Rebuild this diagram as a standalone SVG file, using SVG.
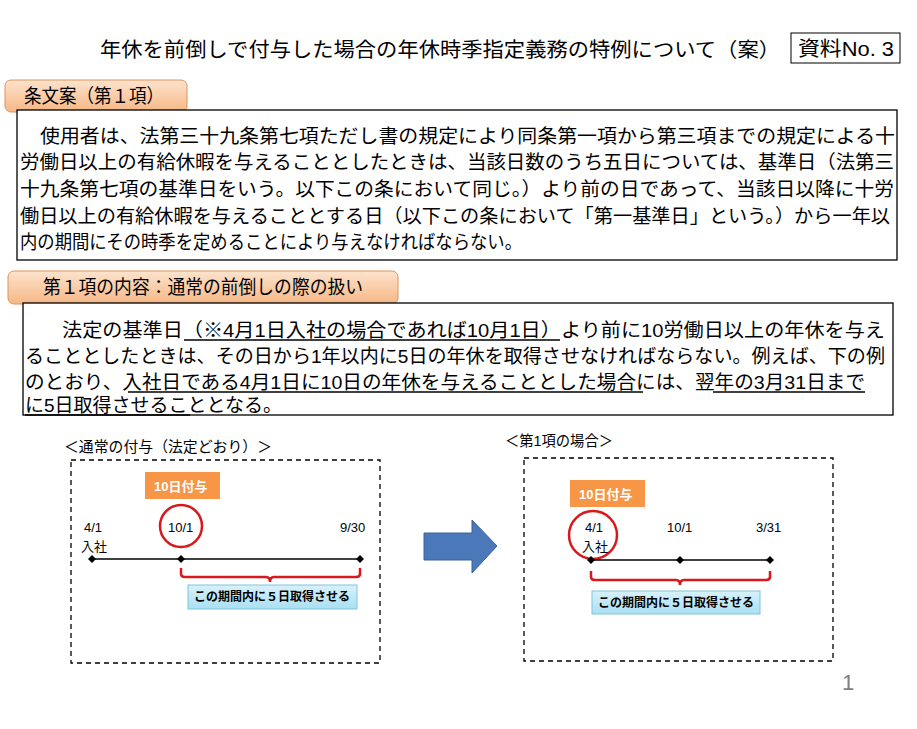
<svg xmlns="http://www.w3.org/2000/svg" width="917" height="729" viewBox="0 0 917 729">
<style>
text{font-family:"Liberation Sans","Noto Sans CJK JP",sans-serif;fill:#000}
.b{font-size:20px}
.t{font-size:19px}
.s{font-size:13px}
.tab{stroke:#e0925a;stroke-width:1}
.dash{fill:none;stroke:#000;stroke-width:1.3;stroke-dasharray:5,4}
.ul{stroke:#000;stroke-width:1.3}
.brace{fill:none;stroke:#d9181c;stroke-width:2.5}
.wt{font-size:13px;font-weight:bold;fill:#fff}
.bt{font-size:12px;font-weight:bold}
</style>
<defs>
<linearGradient id="og" x1="0" y1="0" x2="0" y2="1"><stop offset="0" stop-color="#fde3cd"/><stop offset="1" stop-color="#f6b785"/></linearGradient>
<linearGradient id="bg" x1="0" y1="0" x2="0" y2="1"><stop offset="0" stop-color="#d8f2fb"/><stop offset="1" stop-color="#a9dff2"/></linearGradient>
</defs>
<rect width="917" height="729" fill="#fff"/>
<g id="title">
<text x="100" y="57" class="b" textLength="680" lengthAdjust="spacingAndGlyphs">年休を前倒しで付与した場合の年休時季指定義務の特例について（案）</text>
<rect x="791" y="33" width="109" height="30" fill="#fff" stroke="#000"/>
<text x="798" y="56" class="b" textLength="96" lengthAdjust="spacingAndGlyphs">資料No. 3</text>
</g>
<g id="tab1">
<rect x="5" y="80" width="182" height="32" rx="6" fill="url(#og)" class="tab"/>
<text x="24" y="103" class="t" textLength="140" lengthAdjust="spacingAndGlyphs">条文案（第１項）</text>
</g>
<g id="box1">
<rect x="17" y="110" width="880" height="150" fill="#fff" stroke="#000" stroke-width="1.3"/>
<text x="40" y="143" class="t" textLength="855" lengthAdjust="spacingAndGlyphs">使用者は、法第三十九条第七項ただし書の規定により同条第一項から第三項までの規定による十</text>
<text x="20" y="169" class="t" textLength="874" lengthAdjust="spacingAndGlyphs">労働日以上の有給休暇を与えることとしたときは、当該日数のうち五日については、基準日（法第三</text>
<text x="20" y="196" class="t" textLength="874" lengthAdjust="spacingAndGlyphs">十九条第七項の基準日をいう。以下この条において同じ。）より前の日であって、当該日以降に十労</text>
<text x="20" y="223" class="t" textLength="870" lengthAdjust="spacingAndGlyphs">働日以上の有給休暇を与えることとする日（以下この条において「第一基準日」という。）から一年以</text>
<text x="20" y="249" class="t" textLength="502" lengthAdjust="spacingAndGlyphs">内の期間にその時季を定めることにより与えなければならない。</text>
</g>
<g id="tab2">
<rect x="8" y="271" width="390" height="33" rx="6" fill="url(#og)" class="tab"/>
<text x="43" y="294" class="t" textLength="320" lengthAdjust="spacingAndGlyphs">第１項の内容：通常の前倒しの際の扱い</text>
</g>
<g id="box2">
<rect x="23" y="303" width="870" height="112" fill="#fff" stroke="#000" stroke-width="1.3"/>
<text x="62" y="337" class="t" textLength="823" lengthAdjust="spacingAndGlyphs">法定の基準日（※4月1日入社の場合であれば10月1日）より前に10労働日以上の年休を与え</text>
<text x="25" y="363" class="t" textLength="860" lengthAdjust="spacingAndGlyphs">ることとしたときは、その日から1年以内に5日の年休を取得させなければならない。例えば、下の例</text>
<text x="25" y="389" class="t" textLength="840" lengthAdjust="spacingAndGlyphs">のとおり、入社日である4月1日に10日の年休を与えることとした場合には、翌年の3月31日まで</text>
<text x="25" y="412" class="t" textLength="257" lengthAdjust="spacingAndGlyphs">に5日取得させることとなる。</text>
<line x1="184" y1="340" x2="560" y2="340" class="ul"/>
<line x1="128" y1="392" x2="643" y2="392" class="ul"/>
<line x1="713" y1="392" x2="865" y2="392" class="ul"/>
<line x1="25" y1="415" x2="190" y2="415" class="ul"/>
</g>
<g id="left">
<text x="64" y="452" font-size="15" textLength="208" lengthAdjust="spacingAndGlyphs">＜通常の付与（法定どおり）＞</text>
<rect x="71" y="460" width="309" height="203" class="dash"/>
<rect x="145" y="472" width="75" height="27" fill="#f79646"/>
<text x="154" y="491" class="wt">10日付与</text>
<circle cx="181" cy="526" r="21" fill="none" stroke="#d9181c" stroke-width="2.5"/>
<text x="84" y="532" class="s">4/1</text>
<text x="81" y="551" class="s">入社</text>
<text x="168" y="532" class="s">10/1</text>
<text x="340" y="532" class="s">9/30</text>
<path d="M181 568 v6 q0 3 4 3 h81 q4 0 4 5 q0-5 4-5 h82 q4 0 4-3 v-6" class="brace"/>
<rect x="188" y="585" width="169" height="24" fill="url(#bg)" stroke="#7fc4dc"/>
<text x="272" y="601" class="bt" text-anchor="middle">この期間内に５日取得させる</text>
</g>
<g id="arrow">
<polygon points="424,533 472,533 472,520 497,546 472,573 472,560 424,560" fill="#4a78b8" stroke="#3a62a0"/>
</g>
<g id="right">
<text x="505" y="446" font-size="15" textLength="108" lengthAdjust="spacingAndGlyphs">＜第1項の場合＞</text>
<rect x="524" y="458" width="309" height="203" class="dash"/>
<rect x="570" y="480" width="75" height="27" fill="#f79646"/>
<text x="579" y="499" class="wt">10日付与</text>
<circle cx="593" cy="535" r="24" fill="none" stroke="#d9181c" stroke-width="2.5"/>
<text x="585" y="532" class="s">4/1</text>
<text x="582" y="551" class="s">入社</text>
<text x="667" y="532" class="s">10/1</text>
<text x="756" y="532" class="s">3/31</text>
<path d="M591 571 v6 q0 3 4 3 h81 q4 0 4 5 q0-5 4-5 h82 q4 0 4-3 v-6" class="brace"/>
<rect x="592" y="591" width="168" height="23" fill="url(#bg)" stroke="#7fc4dc"/>
<text x="676" y="607" class="bt" text-anchor="middle">この期間内に５日取得させる</text>
</g>
<g id="connectors">
<line x1="92" y1="559" x2="360" y2="559" stroke="#000" stroke-width="1.5"/>
<path d="M92 555 l4 4 -4 4 -4-4z M181 555 l4 4 -4 4 -4-4z M360 555 l4 4 -4 4 -4-4z"/>
<line x1="591" y1="560" x2="770" y2="560" stroke="#000" stroke-width="1.5"/>
<path d="M591 556 l4 4 -4 4 -4-4z M680 556 l4 4 -4 4 -4-4z M770 556 l4 4 -4 4 -4-4z"/>
</g>
<text x="842" y="690" font-size="22" style="fill:#7f7f7f">1</text>
</svg>
